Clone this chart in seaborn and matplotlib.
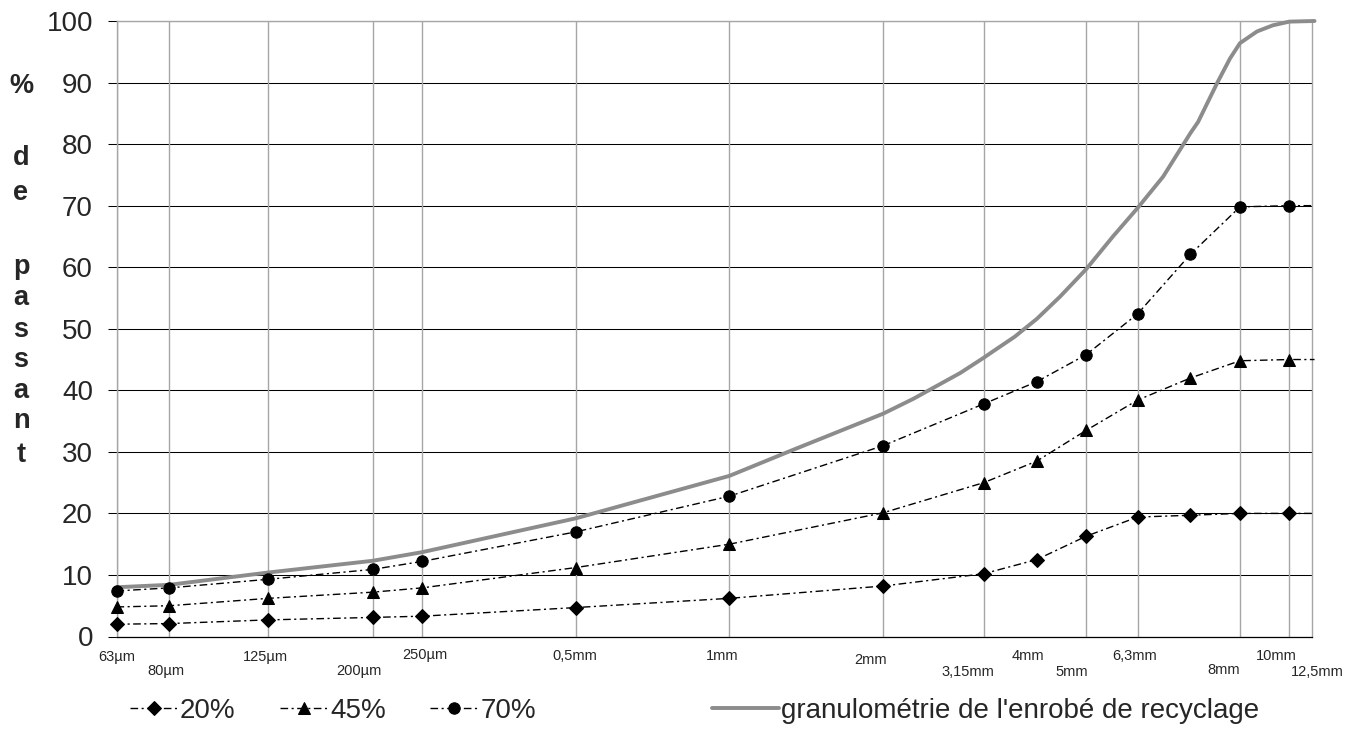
import matplotlib
matplotlib.use('Agg')
import matplotlib.pyplot as plt
from matplotlib.ticker import NullLocator
import seaborn as sns

# sieve sizes (mm) and their labels
sieves = [0.063, 0.08, 0.125, 0.2, 0.25, 0.5, 1, 2, 3.15, 4, 5, 6.3, 8, 10, 12.5]
sieve_labels = ['63µm', '80µm', '125µm', '200µm', '250µm', '0,5mm', '1mm', '2mm',
                '3,15mm', '4mm', '5mm', '6,3mm', '8mm', '10mm', '12,5mm']
grid_sieves = [0.063, 0.08, 0.125, 0.2, 0.25, 0.5, 1, 2, 3.15, 5, 6.3, 10, 12.5]

# mixes: last point is the end of the curve at the right border (no marker)
line_sizes = sieves + [14]
pass_20 = [2.0, 2.1, 2.7, 3.1, 3.3, 4.7, 6.2, 8.2, 10.2, 12.5, 16.3, 19.4, 19.7, 20.0, 20.0, 20.0]
pass_45 = [4.8, 5.0, 6.2, 7.2, 7.9, 11.2, 15.0, 20.1, 25.0, 28.5, 33.5, 38.4, 42.0, 44.8, 45.0, 45.0]
pass_70 = [7.4, 7.9, 9.3, 10.9, 12.2, 17.0, 22.8, 31.0, 37.8, 41.4, 45.8, 52.4, 62.1, 69.8, 70.0, 70.0]

# grading of the recycled asphalt
rap_sizes = [0.063, 0.08, 0.125, 0.2, 0.25, 0.5, 1, 1.33, 2, 2.29, 2.83, 3.15, 3.28,
             3.62, 4, 4.44, 5, 5.64, 6.3, 7.07, 8, 8.28, 9.02, 9.56, 10, 10.8, 11.6,
             12.5, 14]
rap_pass = [8.0, 8.4, 10.4, 12.3, 13.7, 19.2, 26.1, 30.3, 36.2, 38.6, 42.8, 45.3, 46.3,
            48.7, 51.6, 55.2, 59.7, 65.0, 69.6, 74.7, 81.8, 83.6, 89.9, 93.9, 96.4,
            98.3, 99.3, 99.9, 100.0]

series_names = ['20%', '45%', '70%']
rap_name = "granulométrie de l'enrobé de recyclage"
ylabel_letters = ['%', 'd', 'e', 'p', 'a', 's', 's', 'a', 'n', 't']

# label placement (pixels): horizontal shift and distance below the axis
label_dx = [0, -4, -3, -14, 3, -1, -7, -13, -16, -9, -15, -3, 33, 36, 28]
label_dy = [20, 35, 20, 35, 19, 20, 20, 23.5, 35, 20, 35, 19, 34, 20, 35]
letter_y = [93, 165, 200, 274, 305, 337, 367, 398, 428, 462]

sns.set_style('white')
plt.rcParams['font.family'] = ['Liberation Sans', 'DejaVu Sans']

W, H = 1346, 740
fig = plt.figure(figsize=(W / 100, H / 100), dpi=100)
ax = fig.add_axes([116.5 / W, 103.5 / H, (1312 - 116.5) / W, (636.5 - 21) / H])
ax.set_xscale('log')

for s in grid_sieves:
    ax.axvline(s, color='#a6a6a6', lw=1.0, zorder=0.8)

handles = []
markers = ['D', '^', 'o']
msizes = [7.2, 8.5, 8.2]
for name, vals, mk, ms in zip(series_names, [pass_20, pass_45, pass_70], markers, msizes):
    sns.lineplot(x=line_sizes, y=vals, ax=ax, color='black', lw=1.0,
                 linestyle=(0, (5.5, 2.5, 1.5, 2.5)), marker=mk, markersize=ms,
                 markeredgecolor='black', markerfacecolor='black',
                 markevery=list(range(len(sieves))), clip_on=False, zorder=3)
    handles.append(ax.lines[-1])

sns.lineplot(x=rap_sizes, y=rap_pass, ax=ax, color='#8c8c8c', lw=2.8,
             clip_on=False, zorder=2.8, solid_capstyle='round', solid_joinstyle='round')
rap_line = ax.lines[-1]

ax.set_xlim(0.063, 13.84)
ax.set_ylim(0, 100)
ax.set_yticks(range(0, 101, 10))
ax.xaxis.set_major_locator(NullLocator())
ax.xaxis.set_minor_locator(NullLocator())
ax.tick_params(axis='y', direction='out', length=6.5, width=0.75, color='black',
               pad=10.5, labelsize=20, left=True)
ax.tick_params(axis='x', bottom=False, labelbottom=False)
ax.set_axisbelow(True)
ax.yaxis.grid(True, color='black', lw=0.75)
ax.xaxis.grid(False)
for side in ['left', 'top', 'right']:
    ax.spines[side].set_color('#a6a6a6')
    ax.spines[side].set_linewidth(1.0)
ax.spines['bottom'].set_color('black')
ax.spines['bottom'].set_linewidth(0.9)

for s, lab, dx, dy in zip(sieves, sieve_labels, label_dx, label_dy):
    ax.annotate(lab, xy=(s, 0), xycoords=('data', 'axes fraction'),
                xytext=(dx * 0.72, -dy * 0.72), textcoords='offset points',
                ha='center', va='center', fontsize=10.5, annotation_clip=False)

# vertical y label, one letter per line
for ch, yb in zip(ylabel_letters, letter_y):
    fig.text(21 / W, 1 - yb / H, ch, ha='center', va='baseline',
             fontsize=19.5, fontweight='bold')

fig.legend(handles=handles, labels=series_names, loc='center left',
           bbox_to_anchor=(130 / W, 1 - 711 / H), ncol=3, frameon=False,
           fontsize=20, handlelength=1.7, handletextpad=0.1, columnspacing=1.6,
           borderpad=0, borderaxespad=0)
fig.legend(handles=[rap_line], labels=[rap_name], loc='center left',
           bbox_to_anchor=(712 / W, 1 - 711 / H), frameon=False, fontsize=20,
           handlelength=2.4, handletextpad=0.1, borderpad=0, borderaxespad=0)

fig.savefig('out.png', dpi=100)
